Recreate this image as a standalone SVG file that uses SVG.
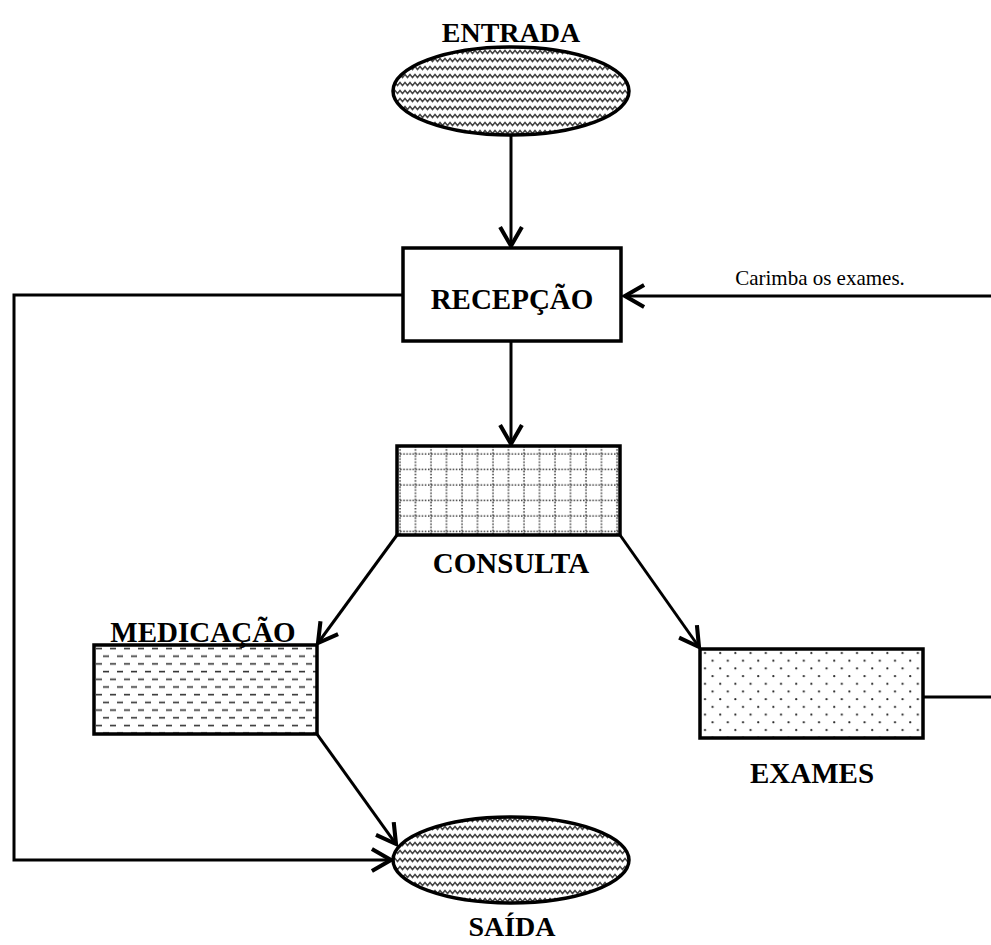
<svg xmlns="http://www.w3.org/2000/svg" width="991" height="945" viewBox="0 0 991 945">
<style>
.lbl{font-family:"Liberation Serif","Times New Roman",serif;font-weight:bold;font-size:29px;fill:#000;text-anchor:middle}
.note{font-family:"Liberation Serif","Times New Roman",serif;font-size:21px;fill:#000;text-anchor:middle}
.box{stroke:#000;stroke-width:3.5}
.edge{fill:none;stroke:#000;stroke-width:3}
</style>
<defs>
<pattern id="wave" width="10" height="8" patternUnits="userSpaceOnUse">
<path d="M-2.5,5.5 L0,2.5 L2.5,5.5 L5,2.5 L7.5,5.5 L10,2.5 L12.5,5.5" fill="none" stroke="#444" stroke-width="1.5"/>
</pattern>
<pattern id="grid" x="397" y="446" width="15.5" height="15.5" patternUnits="userSpaceOnUse">
<line x1="0" y1="8" x2="15.5" y2="8" stroke="#333" stroke-width="1.5" stroke-dasharray="1.5 1.6"/>
<line x1="3" y1="0" x2="3" y2="15.5" stroke="#333" stroke-width="1.5" stroke-dasharray="1.5 1.6"/>
</pattern>
<pattern id="dash" x="94" y="645" width="14" height="15.4" patternUnits="userSpaceOnUse">
<line x1="2" y1="3.5" x2="8" y2="3.5" stroke="#333" stroke-width="1.6"/>
<line x1="9" y1="11.2" x2="15" y2="11.2" stroke="#333" stroke-width="1.6"/>
<line x1="-5" y1="11.2" x2="1" y2="11.2" stroke="#333" stroke-width="1.6"/>
</pattern>
<pattern id="dots" x="700" y="649" width="15.2" height="15.4" patternUnits="userSpaceOnUse">
<circle cx="5" cy="4" r="1.1" fill="#222"/>
<circle cx="12.6" cy="11.7" r="1.1" fill="#222"/>
</pattern>
<marker id="arr" markerUnits="userSpaceOnUse" markerWidth="30" markerHeight="30" viewBox="-3 -3 22 22" refX="14" refY="8" orient="auto" overflow="visible">
<path d="M0,0 L14,8 L0,16" fill="none" stroke="#000" stroke-width="3"/>
</marker>
</defs>

<g id="connectors">
<path class="edge" d="M511,136 V246" marker-end="url(#arr)"/>
<path class="edge" d="M511,341 V444" marker-end="url(#arr)"/>
<path class="edge" d="M397,535 L318,643" marker-end="url(#arr)"/>
<path class="edge" d="M620,535 L699,647" marker-end="url(#arr)"/>
<path class="edge" d="M317,734 L396,844" marker-end="url(#arr)"/>
<path class="edge" d="M403,295 H14 V860 H391" marker-end="url(#arr)"/>
<path class="edge" d="M923,697 H996 V296 H625" marker-end="url(#arr)"/>
<text class="note" x="820" y="285">Carimba os exames.</text>
</g>

<g id="entrada">
<ellipse cx="511" cy="91" rx="118" ry="44" fill="#fff"/>
<ellipse class="box" cx="511" cy="91" rx="118" ry="44" fill="url(#wave)"/>
<text class="lbl" x="511" y="42" style="font-size:28px">ENTRADA</text>
</g>

<g id="recepcao">
<rect class="box" x="403" y="248" width="218" height="93" fill="#fff"/>
<text class="lbl" x="512" y="309">RECEPÇÃO</text>
</g>

<g id="consulta">
<rect x="397" y="446" width="223" height="89" fill="#fff"/>
<rect class="box" x="397" y="446" width="223" height="89" fill="url(#grid)"/>
<text class="lbl" x="511" y="573">CONSULTA</text>
</g>

<g id="medicacao">
<rect x="94" y="645" width="223" height="89" fill="#fff"/>
<rect class="box" x="94" y="645" width="223" height="89" fill="url(#dash)"/>
<text class="lbl" x="203" y="642">MEDICAÇÃO</text>
</g>

<g id="exames">
<rect x="700" y="649" width="223" height="89" fill="#fff"/>
<rect class="box" x="700" y="649" width="223" height="89" fill="url(#dots)"/>
<text class="lbl" x="812" y="783">EXAMES</text>
</g>

<g id="saida">
<ellipse cx="511" cy="860" rx="118" ry="43" fill="#fff"/>
<ellipse class="box" cx="511" cy="860" rx="118" ry="43" fill="url(#wave)"/>
<text class="lbl" x="512" y="936" style="font-size:28px">SAÍDA</text>
</g>
</svg>
